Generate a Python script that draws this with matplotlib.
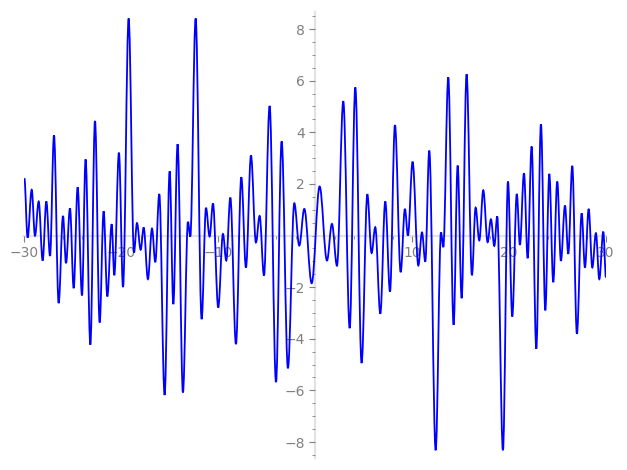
import matplotlib
matplotlib.use("Agg")
import matplotlib.pyplot as plt
from matplotlib.path import Path
from matplotlib.patches import PathPatch
from matplotlib.ticker import MultipleLocator, FixedLocator

# turning points of the curve
x_pts = [-30.0, -29.66, -29.24, -28.90, -28.52, -28.11, -27.73, -27.35, -26.94, -26.46,
         -26.01, -25.70, -25.29, -24.91, -24.50, -24.05, -23.68, -23.19, -22.71, -22.23,
         -21.82, -21.44, -20.99, -20.72, -20.24, -19.82, -19.24, -18.69, -18.38, -18.00,
         -17.69, -17.25, -16.83, -16.49, -16.08, -15.53, -15.01, -14.63, -14.19, -13.64,
         -13.12, -12.88, -12.33, -11.71, -11.26, -10.89, -10.54, -10.00, -9.51, -9.17,
         -8.75, -8.17, -7.62, -7.14, -6.62, -6.11, -5.73, -5.28, -4.70, -4.04,
         -3.46, -2.81, -2.15, -1.64, -1.12, -0.36, 0.46, 1.22, 1.73, 2.25,
         2.90, 3.56, 4.14, 4.79, 5.38, 5.82, 6.20, 6.72, 7.23, 7.72,
         8.23, 8.82, 9.26, 9.57, 10.05, 10.64, 11.02, 11.36, 11.77, 12.43,
         12.98, 13.22, 13.73, 14.28, 14.70, 15.11, 15.62, 16.17, 16.55, 16.93,
         17.34, 17.79, 18.13, 18.48, 18.78, 19.37, 19.89, 20.33, 20.80, 21.12,
         21.54, 21.92, 22.33, 22.81, 23.29, 23.74, 24.15, 24.56, 24.97, 25.35,
         25.77, 26.11, 26.52, 27.00, 27.49, 27.83, 28.21, 28.59, 28.96, 29.31,
         29.72, 30.0]
y_pts = [2.22, -0.08, 1.77, -0.01, 1.32, -0.97, 1.32, -0.79, 3.88, -2.62,
         0.76, -1.07, 1.05, -2.04, 1.87, -2.32, 2.95, -4.23, 4.44, -3.37,
         0.94, -2.36, 0.44, -1.54, 3.21, -2.00, 8.41, -0.66, 0.48, -0.55,
         0.31, -1.69, 0.27, -1.03, 1.61, -6.18, 2.49, -2.66, 3.54, -6.08,
         0.53, -0.04, 8.41, -3.24, 1.07, -0.04, 1.24, -2.79, 0.06, -0.97,
         1.47, -4.21, 2.26, -1.24, 3.10, -0.27, 0.76, -1.55, 5.02, -5.68,
         3.65, -5.14, 1.25, -0.39, 1.03, -1.85, 1.90, -0.97, 0.45, -1.17,
         5.20, -3.59, 5.74, -4.94, 1.60, -0.68, 0.32, -3.03, 1.32, -2.17,
         4.28, -1.42, 1.03, 0.00, 2.86, -1.16, 0.12, -1.01, 3.29, -8.32,
         0.12, -0.45, 6.13, -3.46, 2.71, -2.43, 6.25, -1.54, 1.08, -0.19,
         1.75, -0.26, 0.63, -0.40, 0.74, -8.32, 2.09, -3.14, 1.61, -0.36,
         2.41, -0.88, 3.45, -4.39, 4.31, -2.90, 2.39, -1.81, 2.09, -0.98,
         1.16, -0.71, 2.70, -3.81, 0.86, -1.24, 1.03, -1.24, 0.09, -1.69,
         0.15, -1.63]

x_major = [-30, -20, -10, 10, 20, 30]
y_major = [-8, -6, -4, -2, 2, 4, 6, 8]

fig = plt.figure(figsize=(6.27, 4.70), dpi=100)
ax = fig.add_axes([0.0388, 0.0255, 0.9277, 0.949])

# smooth curve: cubic bezier between turning points, flat tangent at each one
k = 0.364
verts = [(x_pts[0], y_pts[0])]
codes = [Path.MOVETO]
for i in range(1, len(x_pts)):
    x0, y0 = x_pts[i - 1], y_pts[i - 1]
    x1, y1 = x_pts[i], y_pts[i]
    dx = x1 - x0
    verts += [(x0 + k * dx, y0), (x1 - k * dx, y1), (x1, y1)]
    codes += [Path.CURVE4] * 3
curve = PathPatch(Path(verts, codes), facecolor="none", edgecolor="blue",
                  lw=1.3, transform=ax.transData, zorder=3)
ax.add_patch(curve)

ax.set_xlim(-30, 30)
ax.set_ylim(-8.62, 8.66)

# axes through the origin, sage style
for side in ["top", "right"]:
    ax.spines[side].set_visible(False)
ax.spines["left"].set_position(("data", 0))
ax.spines["bottom"].set_position(("data", 0))
for side in ["left", "bottom"]:
    ax.spines[side].set_color("#e3e3e3")
    ax.spines[side].set_linewidth(1.6)
    ax.spines[side].set_zorder(0)

ax.xaxis.set_major_locator(FixedLocator(x_major))
ax.yaxis.set_major_locator(FixedLocator(y_major))
ax.xaxis.set_minor_locator(MultipleLocator(2))
ax.yaxis.set_minor_locator(MultipleLocator(0.5))
ax.tick_params(which="major", length=4, width=0.8, color="#808080",
               labelcolor="#808080", labelsize=10)
ax.tick_params(which="minor", length=2, width=0.6, color="#808080")

fig.savefig("out.png", dpi=100)
